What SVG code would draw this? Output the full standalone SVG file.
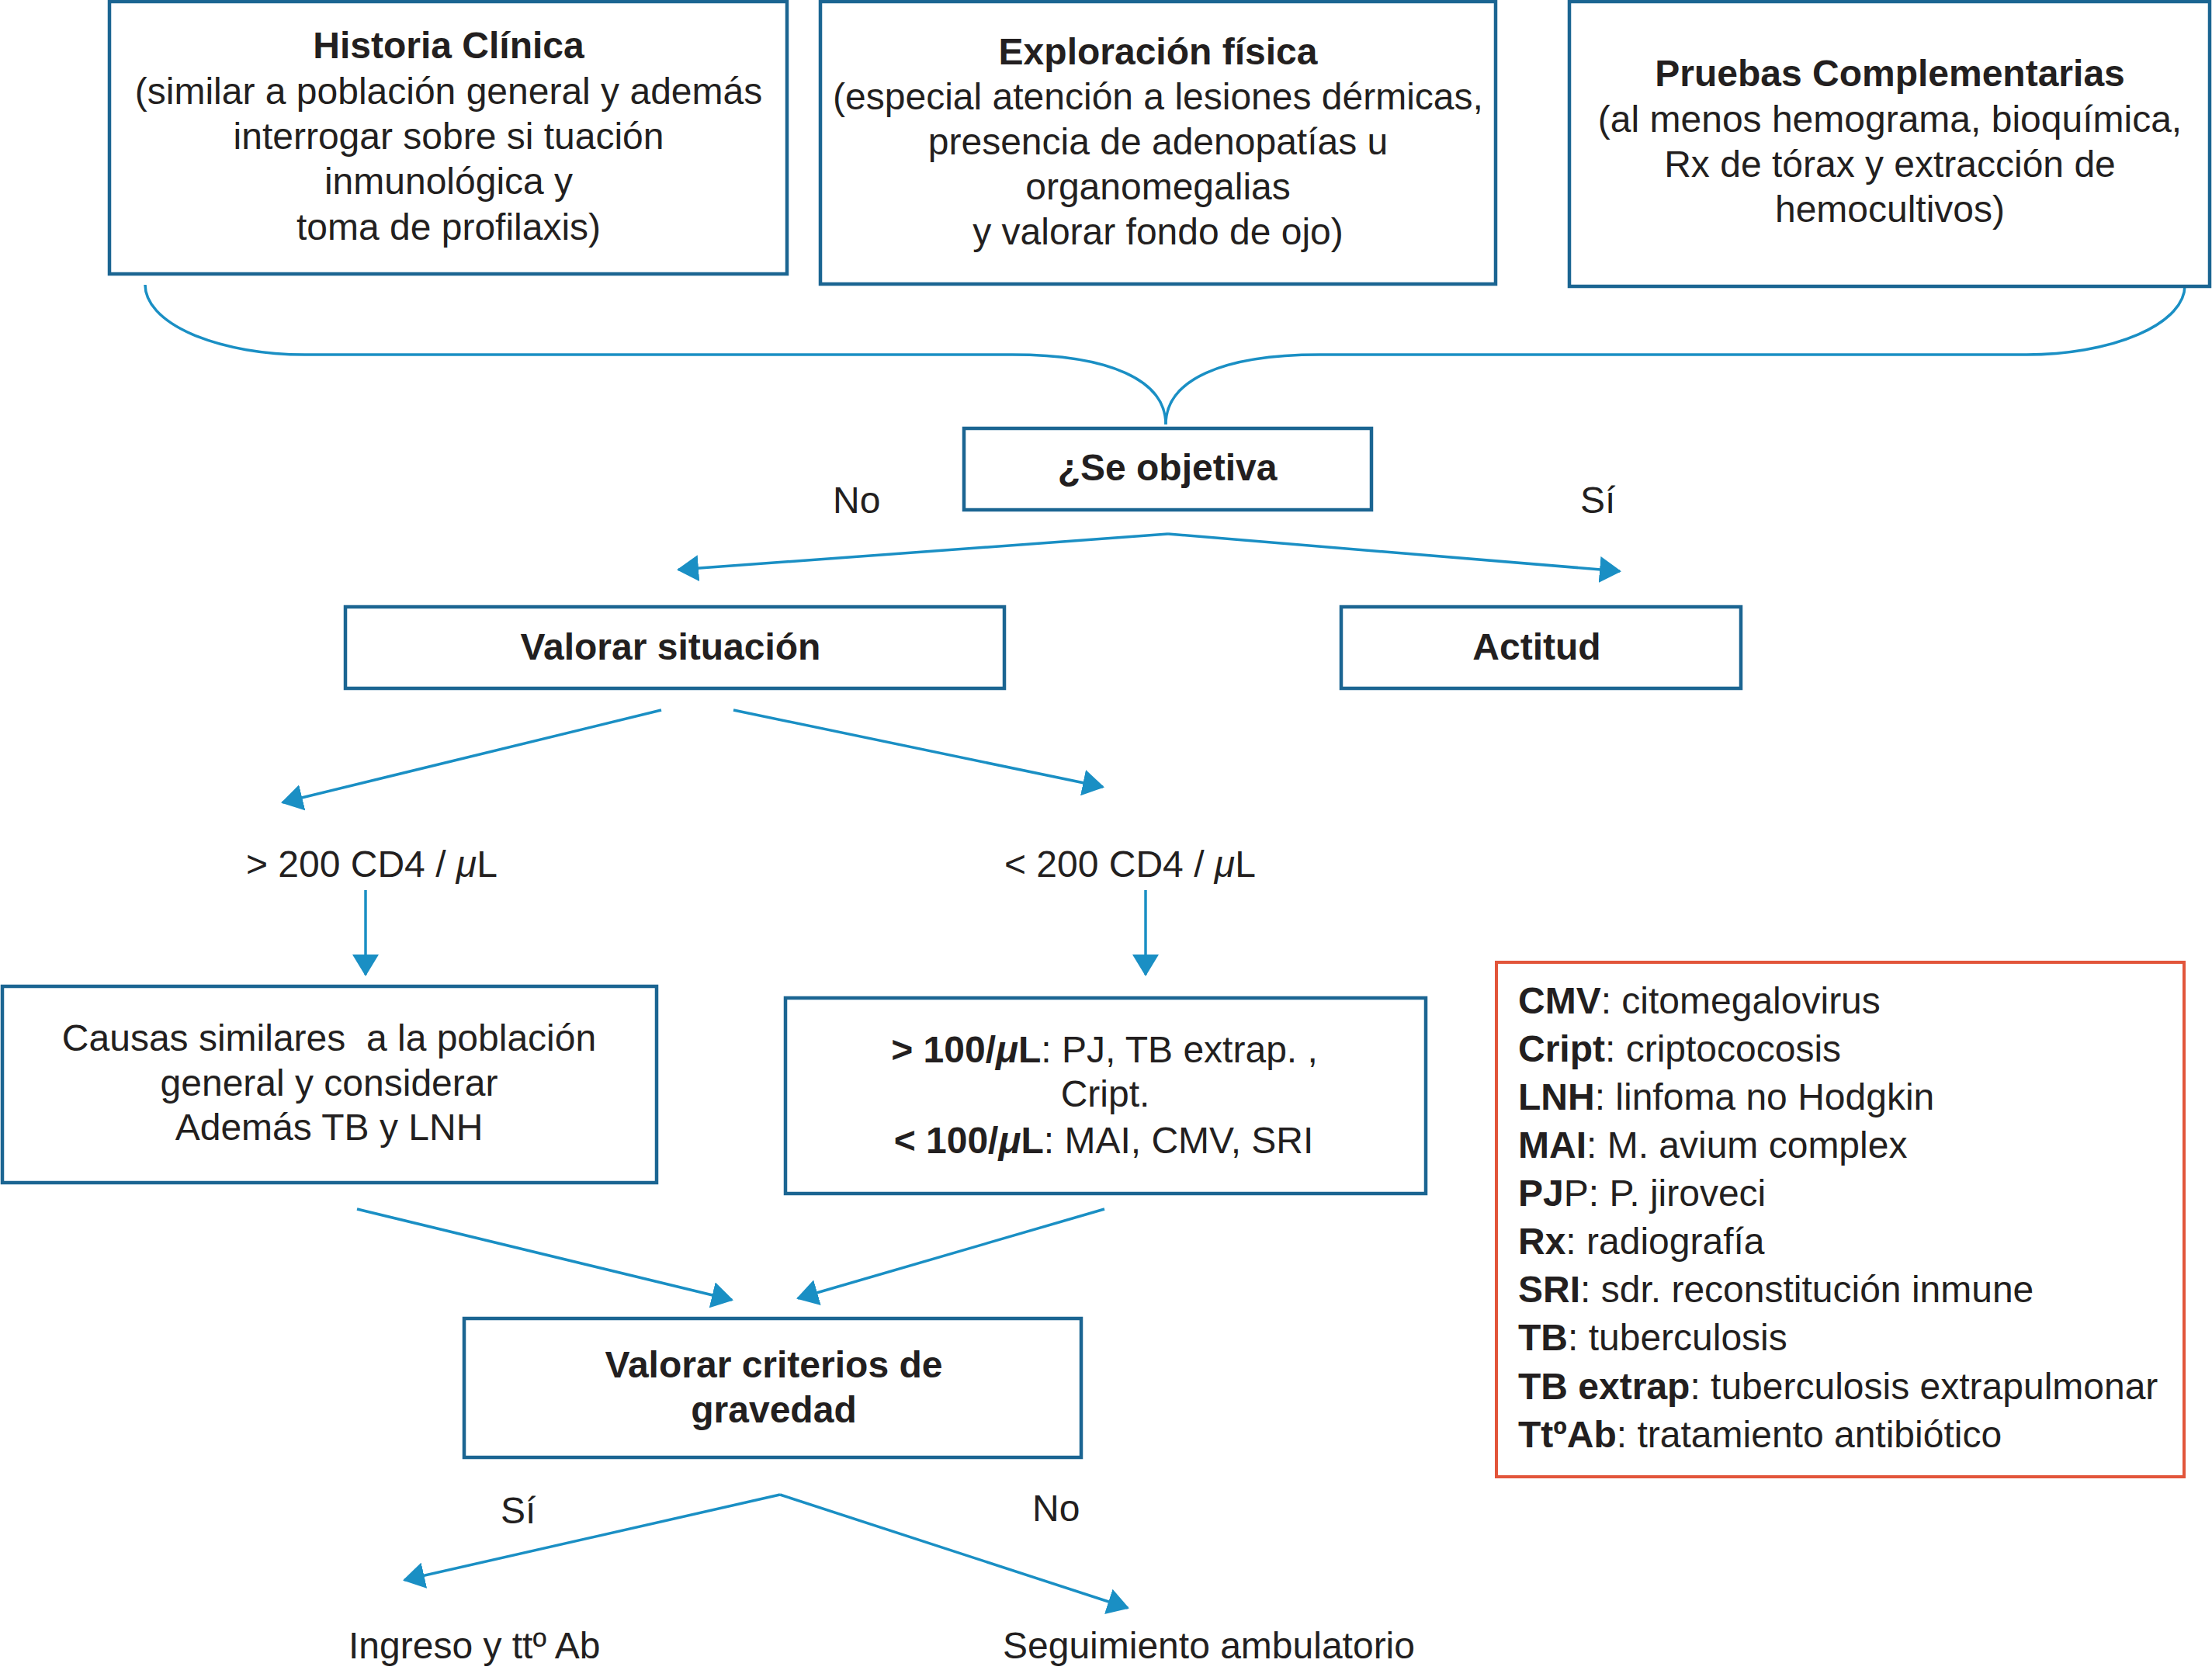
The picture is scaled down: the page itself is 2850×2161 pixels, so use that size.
<svg xmlns="http://www.w3.org/2000/svg" width="2850" height="2161" viewBox="0 0 2850 2161">
<defs>
<style>
.box{fill:#ffffff;stroke:#1b6592;stroke-width:4.5}
.leg{fill:#ffffff;stroke:#e2553a;stroke-width:4}
.t{font-family:"Liberation Sans",Arial,sans-serif;font-size:48px;fill:#231f20}
.c{text-anchor:middle}
.b{font-weight:bold}
.i{font-style:italic}
.con{fill:none;stroke:#1a8fc4;stroke-width:3.5}
.arr{marker-end:url(#ah)}
</style>
<marker id="ah" markerUnits="userSpaceOnUse" viewBox="0 0 28 34" markerWidth="28" markerHeight="34" refX="26" refY="17" orient="auto">
<path d="M0,0 L28,17 L0,34 Z" fill="#1a8fc4"/>
</marker>
</defs>
<rect width="2850" height="2161" fill="#ffffff"/>

<g id="connectors">
<path class="con" d="M187,367 A206,90 0 0 0 393,457 L1304,457 C1430,457 1502,490 1502,547"/>
<path class="con" d="M1502,547 C1502,490 1574,457 1700,457 L2611,457 A204,89 0 0 0 2815,368"/>
<line class="con arr" x1="1505" y1="688" x2="874" y2="734"/>
<line class="con arr" x1="1505" y1="688" x2="2087" y2="736"/>
<line class="con arr" x1="852" y1="915" x2="364" y2="1034"/>
<line class="con arr" x1="945" y1="915" x2="1421" y2="1014"/>
<line class="con arr" x1="471" y1="1147" x2="471" y2="1256"/>
<line class="con arr" x1="1476" y1="1147" x2="1476" y2="1256"/>
<line class="con arr" x1="460" y1="1558" x2="943" y2="1675"/>
<line class="con arr" x1="1423" y1="1558" x2="1028" y2="1673"/>
<line class="con arr" x1="1005" y1="1926" x2="521" y2="2036"/>
<line class="con arr" x1="1005" y1="1926" x2="1453" y2="2072"/>
</g>

<g id="historia">
<rect class="box" x="141" y="2" width="873" height="351"/>
<text class="t c b" x="578" y="75">Historia Clínica</text>
<text class="t c" x="578" y="134">(similar a población general y además</text>
<text class="t c" x="578" y="192">interrogar sobre si tuación</text>
<text class="t c" x="578" y="250">inmunológica y</text>
<text class="t c" x="578" y="309">toma de profilaxis)</text>
</g>

<g id="exploracion">
<rect class="box" x="1057" y="2" width="870" height="364"/>
<text class="t c b" x="1492" y="83">Exploración física</text>
<text class="t c" x="1492" y="141">(especial atención a lesiones dérmicas,</text>
<text class="t c" x="1492" y="199">presencia de adenopatías u</text>
<text class="t c" x="1492" y="257">organomegalias</text>
<text class="t c" x="1492" y="315">y valorar fondo de ojo)</text>
</g>

<g id="pruebas">
<rect class="box" x="2022" y="2" width="825" height="367"/>
<text class="t c b" x="2435" y="111">Pruebas Complementarias</text>
<text class="t c" x="2435" y="170">(al menos hemograma, bioquímica,</text>
<text class="t c" x="2435" y="228">Rx de tórax y extracción de</text>
<text class="t c" x="2435" y="286">hemocultivos)</text>
</g>

<g id="seobjetiva">
<rect class="box" x="1242" y="552" width="525" height="105"/>
<text class="t c b" x="1504" y="619">¿Se objetiva</text>
</g>

<g id="label-no1"><text class="t" x="1073" y="661">No</text></g>
<g id="label-si1"><text class="t" x="2036" y="661">Sí</text></g>

<g id="valorar">
<rect class="box" x="445" y="782" width="849" height="105"/>
<text class="t c b" x="864" y="850">Valorar situación</text>
</g>

<g id="actitud">
<rect class="box" x="1728" y="782" width="515" height="105"/>
<text class="t c b" x="1980" y="850">Actitud</text>
</g>

<g id="mayor200"><text class="t" x="317" y="1130">&gt; 200 CD4 / <tspan class="i">μ</tspan>L</text></g>
<g id="menor200"><text class="t" x="1294" y="1130">&lt; 200 CD4 / <tspan class="i">μ</tspan>L</text></g>

<g id="causas">
<rect class="box" x="3" y="1271" width="843" height="253"/>
<text class="t c" x="424" y="1354" style="white-space:pre">Causas similares  a la población</text>
<text class="t c" x="424" y="1412">general y considerar</text>
<text class="t c" x="424" y="1469">Además TB y LNH</text>
</g>

<g id="cd4box">
<rect class="box" x="1012" y="1286" width="825" height="252"/>
<text class="t c" x="1423" y="1369"><tspan class="b">&gt; 100/<tspan class="i">μ</tspan>L</tspan>: PJ, TB extrap. ,</text>
<text class="t c" x="1424" y="1426">Cript.</text>
<text class="t c" x="1422" y="1486"><tspan class="b">&lt; 100/<tspan class="i">μ</tspan>L</tspan>: MAI, CMV, SRI</text>
</g>

<g id="gravedad">
<rect class="box" x="598" y="1699" width="795" height="179"/>
<text class="t c b" x="997" y="1775">Valorar criterios de</text>
<text class="t c b" x="997" y="1833">gravedad</text>
</g>

<g id="label-si2"><text class="t" x="645" y="1963">Sí</text></g>
<g id="label-no2"><text class="t" x="1330" y="1960">No</text></g>

<g id="ingreso"><text class="t" x="449" y="2137">Ingreso y ttº Ab</text></g>
<g id="seguimiento"><text class="t" x="1292" y="2137">Seguimiento ambulatorio</text></g>

<g id="leyenda">
<rect class="leg" x="1928" y="1240" width="886" height="663"/>
<text class="t" x="1956" y="1306"><tspan class="b">CMV</tspan>: citomegalovirus</text>
<text class="t" x="1956" y="1368"><tspan class="b">Cript</tspan>: criptococosis</text>
<text class="t" x="1956" y="1430"><tspan class="b">LNH</tspan>: linfoma no Hodgkin</text>
<text class="t" x="1956" y="1492"><tspan class="b">MAI</tspan>: M. avium complex</text>
<text class="t" x="1956" y="1554"><tspan class="b">PJ</tspan>P: P. jiroveci</text>
<text class="t" x="1956" y="1616"><tspan class="b">Rx</tspan>: radiografía</text>
<text class="t" x="1956" y="1678"><tspan class="b">SRI</tspan>: sdr. reconstitución inmune</text>
<text class="t" x="1956" y="1740"><tspan class="b">TB</tspan>: tuberculosis</text>
<text class="t" x="1956" y="1803"><tspan class="b">TB extrap</tspan>: tuberculosis extrapulmonar</text>
<text class="t" x="1956" y="1865"><tspan class="b">TtºAb</tspan>: tratamiento antibiótico</text>
</g>
</svg>
